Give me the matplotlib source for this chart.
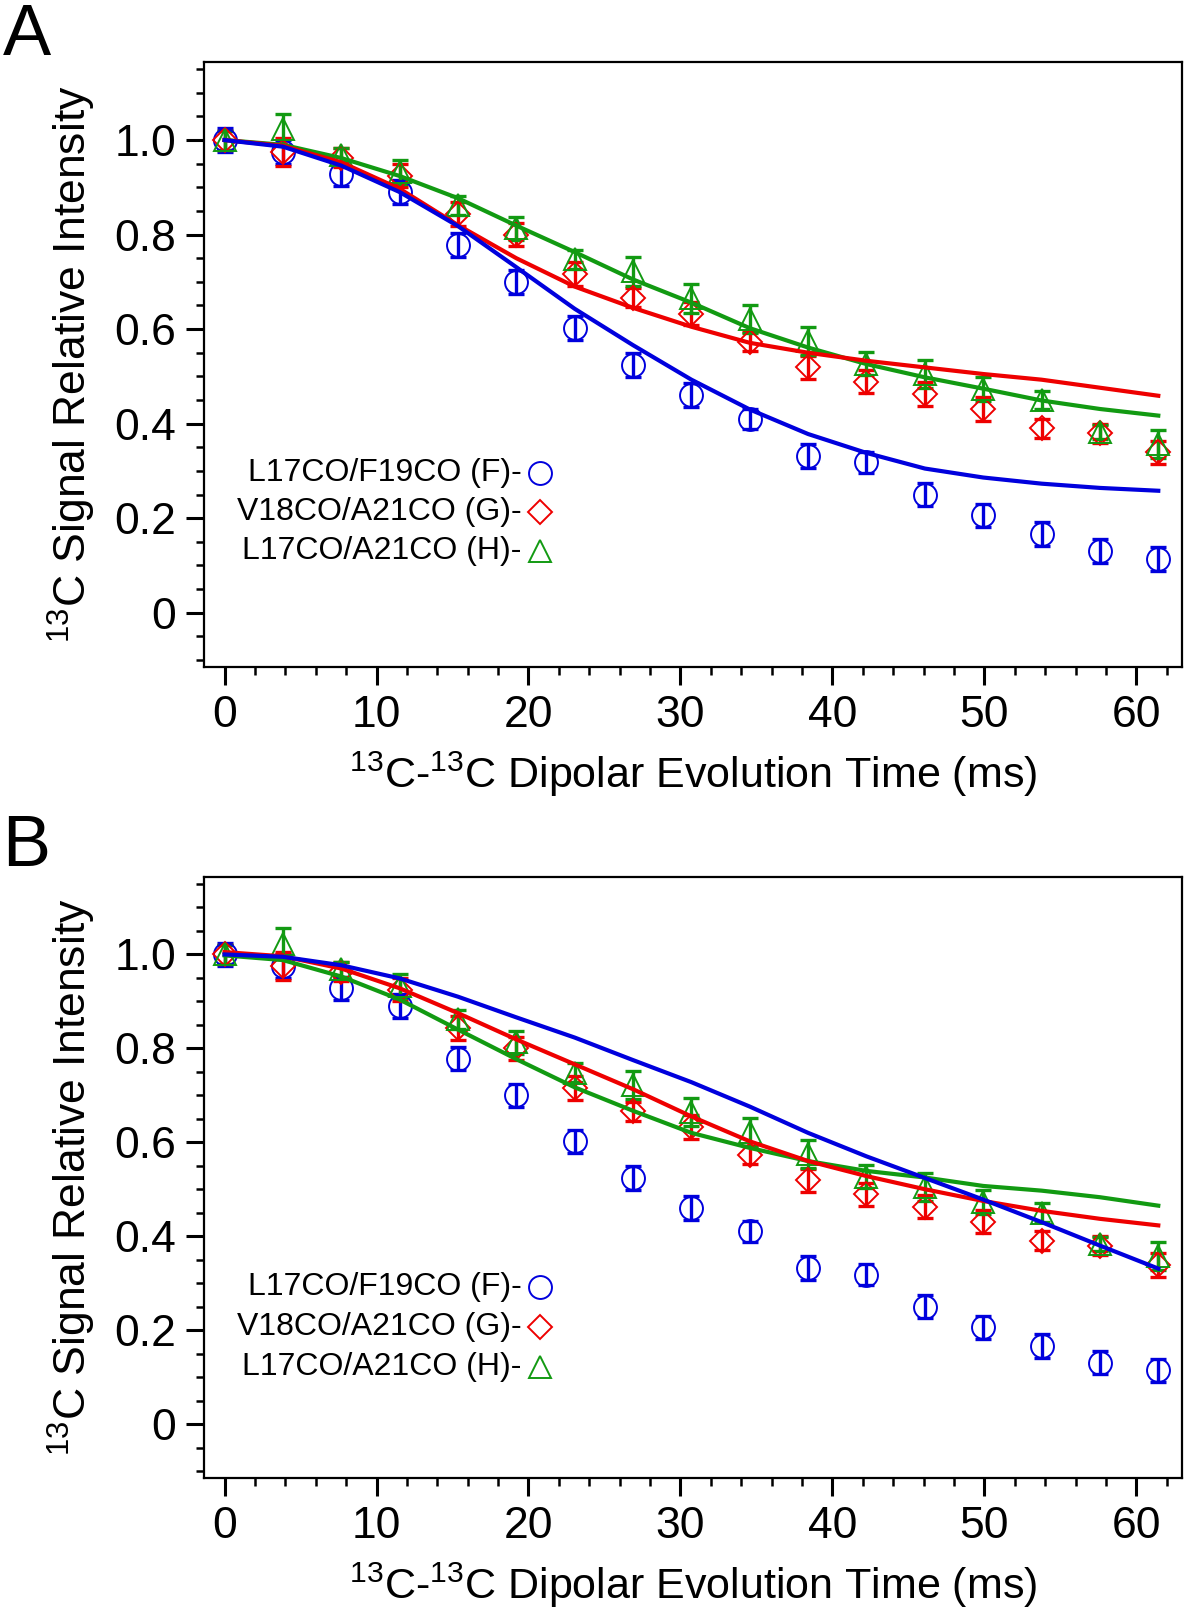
import matplotlib
matplotlib.use('Agg')
import matplotlib.pyplot as plt
from matplotlib.ticker import MultipleLocator

plt.rcParams['font.family'] = ['Liberation Sans', 'DejaVu Sans']
plt.rcParams['mathtext.fontset'] = 'custom'
plt.rcParams['mathtext.rm'] = 'Liberation Sans'
plt.rcParams['mathtext.it'] = 'Liberation Sans:italic'
plt.rcParams['mathtext.bf'] = 'Liberation Sans:bold'

# dipolar evolution times (ms)
t = [0, 3.84, 7.68, 11.52, 15.36, 19.2, 23.04, 26.88, 30.72, 34.56,
     38.4, 42.24, 46.08, 49.92, 53.76, 57.6, 61.44]

# experimental data (same in both panels)
exp_F = [1.0, 0.975, 0.928, 0.89, 0.778, 0.70, 0.602, 0.524, 0.46, 0.41,
         0.332, 0.318, 0.25, 0.206, 0.166, 0.131, 0.114]
err_F = [0.025, 0.025, 0.025, 0.025, 0.025, 0.025, 0.025, 0.025, 0.025, 0.022,
         0.025, 0.022, 0.025, 0.025, 0.025, 0.025, 0.025]
exp_G = [1.0, 0.975, 0.963, 0.925, 0.843, 0.80, 0.716, 0.666, 0.633, 0.573,
         0.519, 0.489, 0.463, 0.431, 0.39, 0.38, 0.339]
err_G = [0.02, 0.03, 0.02, 0.025, 0.025, 0.025, 0.025, 0.02, 0.025, 0.02,
         0.025, 0.025, 0.025, 0.025, 0.02, 0.02, 0.025]
exp_H = [1.0, 1.023, 0.968, 0.933, 0.862, 0.813, 0.748, 0.722, 0.665, 0.622,
         0.575, 0.527, 0.505, 0.473, 0.45, 0.383, 0.357]
err_H = [0.02, 0.033, 0.015, 0.025, 0.02, 0.025, 0.02, 0.03, 0.03, 0.03,
         0.03, 0.025, 0.03, 0.025, 0.02, 0.015, 0.03]

# simulated curves, panel A
simA_F = [1.0, 0.986, 0.946, 0.89, 0.818, 0.731, 0.643, 0.566, 0.493, 0.43,
          0.378, 0.338, 0.305, 0.286, 0.273, 0.264, 0.258]
simA_G = [1.0, 0.988, 0.953, 0.897, 0.82, 0.75, 0.69, 0.645, 0.605, 0.571,
          0.55, 0.533, 0.519, 0.505, 0.493, 0.476, 0.459]
simA_H = [1.0, 0.99, 0.962, 0.924, 0.877, 0.819, 0.763, 0.705, 0.656, 0.602,
          0.561, 0.526, 0.498, 0.474, 0.449, 0.431, 0.417]

# simulated curves, panel B
simB_F = [1.0, 0.995, 0.977, 0.949, 0.91, 0.866, 0.823, 0.775, 0.728, 0.676,
          0.62, 0.57, 0.524, 0.478, 0.43, 0.38, 0.331]
simB_G = [1.005, 0.996, 0.97, 0.928, 0.875, 0.819, 0.766, 0.713, 0.655, 0.602,
          0.56, 0.528, 0.5, 0.475, 0.454, 0.437, 0.423]
simB_H = [0.998, 0.988, 0.953, 0.904, 0.84, 0.777, 0.717, 0.667, 0.62, 0.588,
          0.56, 0.539, 0.525, 0.507, 0.497, 0.483, 0.465]

labels = ['L17CO/F19CO (F)-', 'V18CO/A21CO (G)-', 'L17CO/A21CO (H)-']
colors = ['#0000dd', '#ee0000', '#129a12']
markers = ['o', 'D', '^']
msizes = [16.5, 12.5, 15.5]

exps = [(exp_F, err_F), (exp_G, err_G), (exp_H, err_H)]


def draw_panel(ax, sims, legend_y):
    # data points with error bars
    for (y, e), c, m, ms in zip(exps, colors, markers, msizes):
        ax.errorbar(t, y, yerr=e, fmt='none', ecolor=c, elinewidth=2.4,
                    capsize=5.5, capthick=2.4, zorder=2)
        ax.plot(t, y, linestyle='none', marker=m, ms=ms, mfc='none',
                mec=c, mew=1.4, zorder=3)
    # simulation curves
    for s, c in zip(sims[::-1], colors[::-1]):
        ax.plot(t, s, color=c, lw=3.0, zorder=4)

    ax.set_xlim(-1.35, 63.0)
    ax.set_ylim(-0.115, 1.165)
    ax.xaxis.set_major_locator(MultipleLocator(10))
    ax.xaxis.set_minor_locator(MultipleLocator(2))
    ax.yaxis.set_minor_locator(MultipleLocator(0.05))
    ax.set_yticks([0, 0.2, 0.4, 0.6, 0.8, 1.0])
    ax.set_yticklabels(['0', '0.2', '0.4', '0.6', '0.8', '1.0'])
    ax.tick_params(which='major', direction='out', length=13, width=2.2,
                   labelsize=32, pad=7)
    ax.tick_params(which='minor', direction='out', length=6, width=1.8)
    for sp in ax.spines.values():
        sp.set_linewidth(1.6)

    ax.set_xlabel(r'$^{13}$C-$^{13}$C Dipolar Evolution Time (ms)',
                  fontsize=31, labelpad=10)
    ax.set_ylabel(r'$^{13}$C Signal Relative Intensity', fontsize=32,
                  labelpad=12)

    # hand-made legend: right-aligned text, marker after it
    for lab, c, m, ms, ly in zip(labels, colors, markers, msizes, legend_y):
        ax.text(0.325, ly, lab, transform=ax.transAxes, ha='right',
                va='center', fontsize=23)
        ax.plot([0.3436], [ly], transform=ax.transAxes, marker=m, ms=ms,
                mfc='none', mec=c, mew=1.4, linestyle='none', clip_on=False)


fig = plt.figure(figsize=(11.89, 16.21), dpi=100)
axA = fig.add_axes([0.1716, 0.5885, 0.8225, 0.3732])
axB = fig.add_axes([0.1716, 0.0882, 0.8225, 0.3708])

draw_panel(axA, [simA_F, simA_G, simA_H], [0.320, 0.256, 0.191])
draw_panel(axB, [simB_F, simB_G, simB_H], [0.318, 0.252, 0.185])

fig.text(0.002, 0.998, 'A', fontsize=52, ha='left', va='top')
fig.text(0.002, 0.498, 'B', fontsize=52, ha='left', va='top')

fig.savefig('out.png', dpi=100)
